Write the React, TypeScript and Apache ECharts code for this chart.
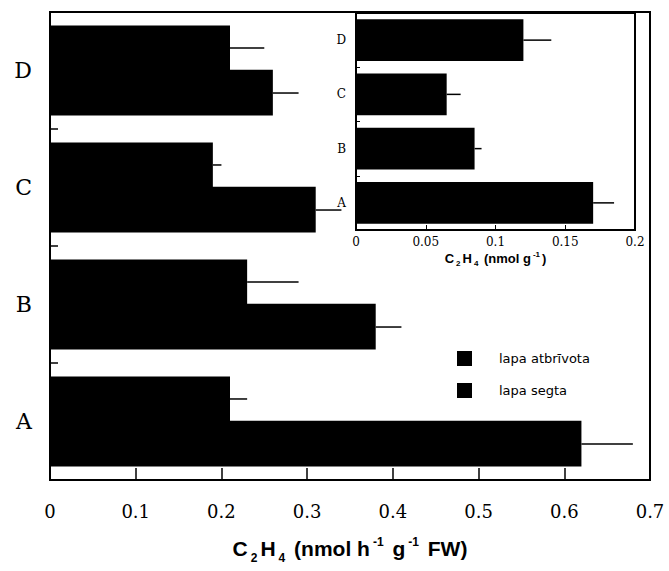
import React, { useEffect, useRef } from "react";
import * as echarts from "echarts";

const categories = ["A", "B", "C", "D"];
const atbrivotaValues = [0.21, 0.23, 0.19, 0.21];
const atbrivotaErrors = [0.02, 0.06, 0.01, 0.04];
const segtaValues = [0.62, 0.38, 0.31, 0.26];
const segtaErrors = [0.06, 0.03, 0.03, 0.03];
const insetValues = [0.17, 0.085, 0.065, 0.12];
const insetErrors = [0.015, 0.005, 0.01, 0.02];
const seriesNames = ["lapa atbrīvota", "lapa segta"];

const GAP = 0.23;

function errorSeries(name: string, values: number[], errors: number[], xi: number, yi: number, sign: number) {
  return {
    type: "custom",
    name,
    xAxisIndex: xi,
    yAxisIndex: yi,
    z: 5,
    data: values.map((v, i) => [v, i, errors[i]]),
    encode: { x: 0, y: 1 },
    renderItem: (params: any, api: any) => {
      const v = api.value(0);
      const c = api.value(1);
      const e = api.value(2);
      const s = api.coord([v, c]);
      const t = api.coord([v + e, c]);
      const band = api.size([0, 1])[1];
      const off = sign * band * (1 - GAP) / 4;
      return {
        type: "line",
        shape: { x1: s[0], y1: s[1] + off, x2: t[0], y2: t[1] + off },
        style: { stroke: "#000", lineWidth: 1.5 },
      };
    },
  };
}

export default function App() {
  const ref = useRef<HTMLDivElement>(null);
  useEffect(() => {
    if (!ref.current) return;
    const chart = echarts.init(ref.current, undefined, { renderer: "svg" });
    const serif = "DejaVu Serif";
    const sans = "Liberation Sans";
    const barStyle = { color: "#000" };
    chart.setOption({
      animation: false,
      backgroundColor: "#fff",
      legend: {
        data: seriesNames,
        orient: "vertical",
        left: 452,
        top: 346,
        itemWidth: 15,
        itemHeight: 15,
        itemGap: 17,
        icon: "rect",
        textStyle: { fontFamily: "DejaVu Sans", fontSize: 13, color: "#000", padding: [0, 0, 0, 22] },
      },
      grid: [
        { left: 50, right: 19, top: 12, bottom: 91, show: true, borderColor: "#000", borderWidth: 2, containLabel: false },
        { left: 356, right: 34, top: 13, bottom: 341, show: true, borderColor: "#000", borderWidth: 2, containLabel: false },
      ],
      xAxis: [
        {
          type: "value",
          gridIndex: 0,
          min: 0,
          max: 0.7,
          interval: 0.1,
          splitLine: { show: false },
          axisLine: { show: true, lineStyle: { color: "#000", width: 2 } },
          axisTick: { show: true, inside: true, length: 12, lineStyle: { color: "#000", width: 1.5 } },
          axisLabel: { fontFamily: serif, fontSize: 18, color: "#000", margin: 22 },
          name: "{n|C}{sub|2}{n|H}{sub|4}{n| (nmol h}{sup|-1}{n| g}{sup|-1}{n| FW)}",
          nameLocation: "middle",
          nameGap: 56,
          nameTextStyle: {
            rich: {
              n: { fontFamily: sans, fontSize: 21, fontWeight: "bold", color: "#000", lineHeight: 24 },
              sub: { fontFamily: sans, fontSize: 12, fontWeight: "bold", color: "#000", lineHeight: 24, padding: [20, 3, 0, 3] },
              sup: { fontFamily: sans, fontSize: 12, fontWeight: "bold", color: "#000", lineHeight: 24, padding: [0, 3, 12, 3] },
            },
          },
        },
        {
          type: "value",
          gridIndex: 1,
          min: 0,
          max: 0.2,
          interval: 0.05,
          splitLine: { show: false },
          axisLine: { show: true, lineStyle: { color: "#000", width: 1.5 } },
          axisTick: { show: true, inside: true, length: 5, lineStyle: { color: "#000", width: 1 } },
          axisLabel: { fontFamily: serif, fontSize: 12, color: "#000", margin: 6 },
          name: "{n|C}{sub|2}{n|H}{sub|4}{n| (nmol g}{sup|-1}{n|)}",
          nameLocation: "middle",
          nameGap: 20,
          nameTextStyle: {
            rich: {
              n: { fontFamily: sans, fontSize: 13, fontWeight: "bold", color: "#000", lineHeight: 16 },
              sub: { fontFamily: sans, fontSize: 8, fontWeight: "bold", color: "#000", lineHeight: 16, padding: [11, 2, 0, 2] },
              sup: { fontFamily: sans, fontSize: 8, fontWeight: "bold", color: "#000", lineHeight: 16, padding: [0, 2, 8, 2] },
            },
          },
        },
      ],
      yAxis: [
        {
          type: "category",
          gridIndex: 0,
          data: categories,
          axisLine: { show: true, lineStyle: { color: "#000", width: 2 } },
          axisTick: { show: true, inside: true, length: 8, lineStyle: { color: "#000", width: 1.5 } },
          axisLabel: { fontFamily: serif, fontSize: 22, color: "#000", margin: 18 },
        },
        {
          type: "category",
          gridIndex: 1,
          data: categories,
          axisLine: { show: true, lineStyle: { color: "#000", width: 1.5 } },
          axisTick: { show: true, inside: true, length: 4, lineStyle: { color: "#000", width: 1 } },
          axisLabel: { fontFamily: serif, fontSize: 12, color: "#000", margin: 10 },
        },
      ],
      series: [
        {
          type: "bar",
          name: seriesNames[0],
          xAxisIndex: 0,
          yAxisIndex: 0,
          data: atbrivotaValues,
          itemStyle: barStyle,
          barGap: "-3%",
          barCategoryGap: "23%",
        },
        {
          type: "bar",
          name: seriesNames[1],
          xAxisIndex: 0,
          yAxisIndex: 0,
          data: segtaValues,
          itemStyle: barStyle,
          barGap: "-3%",
          barCategoryGap: "23%",
        },
        {
          type: "bar",
          name: "inset",
          xAxisIndex: 1,
          yAxisIndex: 1,
          data: insetValues,
          itemStyle: barStyle,
          barCategoryGap: "23%",
        },
        errorSeries("errA", atbrivotaValues, atbrivotaErrors, 0, 0, -1),
        errorSeries("errS", segtaValues, segtaErrors, 0, 0, 1),
        errorSeries("errI", insetValues, insetErrors, 1, 1, 0),
      ],
    });
    return () => chart.dispose();
  }, []);
  return <div ref={ref} style={{ position: "fixed", left: 0, top: 0, width: 669, height: 571 }} />;
}
